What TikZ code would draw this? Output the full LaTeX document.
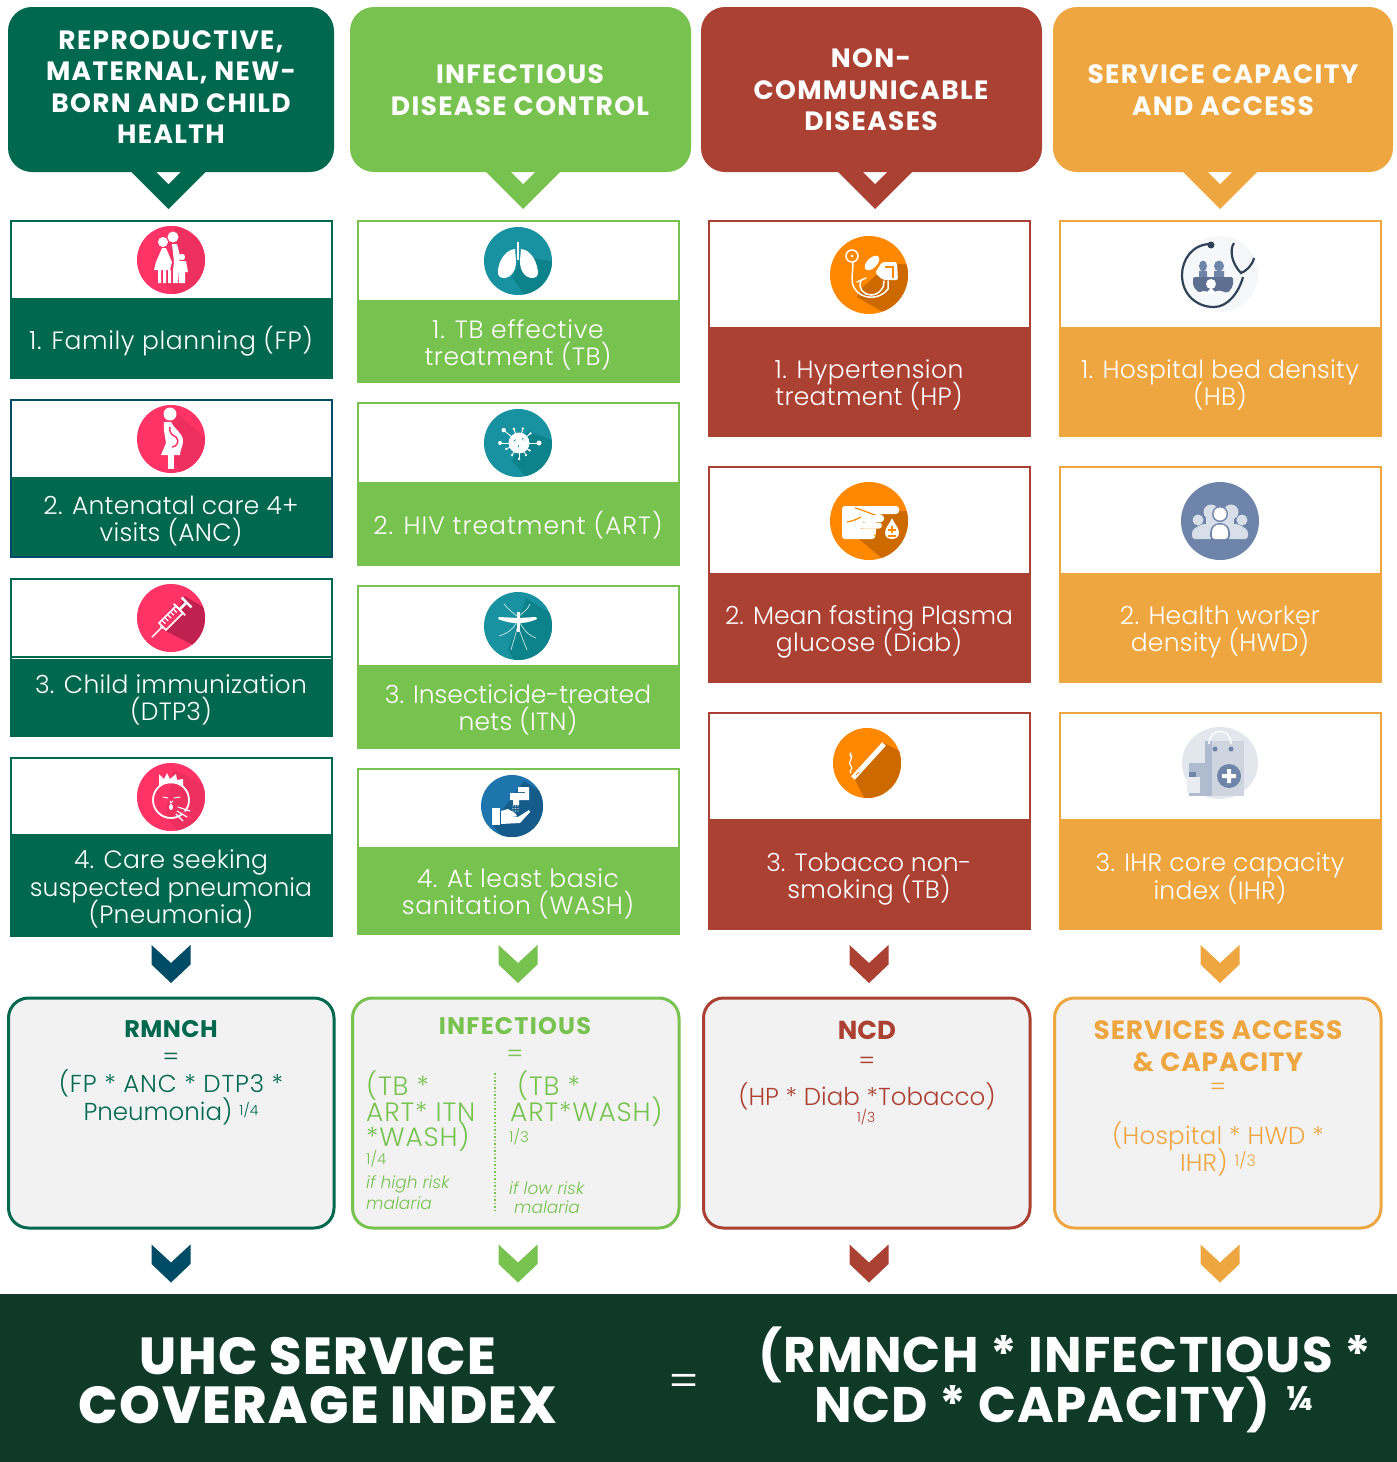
\documentclass[tikz,border=0pt]{standalone}
\usepackage{fontspec}
\setmainfont{Poppins}[UprightFont=* Light,BoldFont=* SemiBold,ItalicFont=* Light Italic]
\newfontfamily\heavyf{Poppins ExtraBold}
\newfontfamily\boldf{Poppins Bold}
\newcommand\ls[1]{\addfontfeature{LetterSpace=#1}}
\definecolor{cgreen}{HTML}{00684F}
\definecolor{clime}{HTML}{78C250}
\definecolor{cred}{HTML}{AB4132}
\definecolor{corange}{HTML}{EEA640}
\definecolor{cnavy}{HTML}{004C66}
\definecolor{cband}{HTML}{103A28}
\definecolor{cbox}{HTML}{F2F2F2}
\definecolor{cpink}{HTML}{FF3366}
\definecolor{cpinkd}{HTML}{EE3060}
\definecolor{cpinkx}{HTML}{C0224F}
\definecolor{cteal}{HTML}{1892A0}
\definecolor{ctealt}{HTML}{0C828A}
\definecolor{cblue}{HTML}{1E75AD}
\definecolor{cblued}{HTML}{165C8A}
\definecolor{cor}{HTML}{FF8800}
\definecolor{cord}{HTML}{CC6A00}
\definecolor{cslate}{HTML}{6E84A8}
\definecolor{cpale}{HTML}{D8DFE9}
\definecolor{cink}{HTML}{2F4257}
\tikzset{
  cardtxt/.style={text=white,align=center,inner sep=0pt,font=\fontsize{25}{27.5}\selectfont\ls{1}},
  headtxt/.style={text=white,align=center,inner sep=0pt,font=\fontsize{26.5}{31.6}\selectfont\boldf\ls{5}},
  formtxt/.style={align=center,inner sep=0pt,font=\fontsize{24.5}{27.5}\selectfont\ls{1}},
  formhead/.style={align=center,inner sep=0pt,font=\fontsize{24}{31}\selectfont\boldf\ls{2}},
  smalltxt/.style={anchor=west,inner sep=0pt,font=\fontsize{15}{17}\selectfont},
  risktxt/.style={anchor=west,inner sep=0pt,font=\fontsize{17}{19}\selectfont\itshape},
  lefttxt/.style={anchor=west,inner sep=0pt,font=\fontsize{26.5}{26}\selectfont\ls{3}},
  bandtxt/.style={text=white,align=center,inner sep=0pt},
  glyph/.style={fill=white,draw=none},
  wline/.style={draw=white,line width=1.5pt,line cap=round,fill=none}
}
\newcommand\headerbox[8]{%
  \fill[#5] (#4-37,172) -- (#4,209) -- (#4+37,172) -- cycle;
  \fill[white] (#4-12,172) -- (#4,184) -- (#4+12,172) -- cycle;
  \fill[#5,rounded corners=24pt] (#2,7) rectangle (#3,172);
  \node[headtxt] (#1) at (#6,#7) {#8};
}
\newcommand\card[9]{%
  \fill[white,draw=#6,line width=2pt] (#2+1,#3+1) rectangle (#2+322,#4+1);
  \fill[#6] (#2,#4+1) rectangle (#2+323,#5);
  \node[cardtxt] (#1) at (#7,#8) {#9};
}
\newcommand\chev[3]{%
  \fill[#3] (#1-19.5,#2) -- (#1,#2+18) -- (#1+19.5,#2) -- (#1+19.5,#2+19.5) -- (#1,#2+38) -- (#1-19.5,#2+19.5) -- cycle;
}
\newcommand\formbox[3]{%
  \draw[#3,line width=3pt,fill=cbox,rounded corners=20pt] (#1,998) rectangle (#2,1228);
}
\newcommand\disc[4]{%
  \fill[#2] (0,0) circle[radius=#1];
  \begin{scope}
    \clip (0,0) circle[radius=#1];
    \fill[#3] #4;
  \end{scope}
}
\begin{document}
\begin{tikzpicture}[x=1pt,y=-1pt]
\lineskiplimit=-100pt
\normallineskiplimit=-100pt
\useasboundingbox (0,0) rectangle (1397,1462);
\fill[white] (0,0) rectangle (1397,1462);

% ---------- headers
\headerbox{h1}{8}{334}{168.5}{cgreen}{171}{87}{REPRODUCTIVE,\\MATERNAL, NEW-\\BORN AND CHILD\\HEALTH}
\headerbox{h2}{350}{691}{523}{clime}{520}{90}{INFECTIOUS\\DISEASE CONTROL}
\headerbox{h3}{701}{1042}{875}{cred}{871}{90}{NON-\\COMMUNICABLE\\DISEASES}
\headerbox{h4}{1053}{1393}{1220}{corange}{1223}{90}{SERVICE CAPACITY\\AND ACCESS}

% ---------- cards column 1
\card{c11}{10}{220}{298}{379}{cgreen}{171}{341}{{\ls{2.5}1. Family planning (FP)}}
\card{c12}{10}{399}{477}{558}{cgreen}{171}{521}{2. Antenatal care 4+\\visits (ANC)}
\draw[cnavy,line width=2pt] (11,400) rectangle (332,557);
\card{c13}{10}{578}{656}{737}{cgreen}{171}{700}{3. Child immunization\\(DTP3)}
\draw[white,line width=1pt] (12,658.5) -- (331,658.5);
\card{c14}{10}{757}{834}{937}{cgreen}{171}{889}{4. Care seeking\\{\ls{0.2}suspected pneumonia}\\(Pneumonia)}
% ---------- cards column 2
\card{c21}{357}{220}{300}{383}{clime}{518}{345}{{\ls{3}1. TB effective}\\{\ls{2}treatment (TB)}}
\card{c22}{357}{402}{482}{566}{clime}{518}{525}{{\ls{4}2. HIV treatment (ART)}}
\card{c23}{357}{585}{665}{749}{clime}{518}{710}{{\ls{0}3. Insecticide-treated}\\nets (ITN)}
\card{c24}{357}{768}{847}{935}{clime}{518}{894}{{\ls{2}4. At least basic}\\{\ls{2.5}sanitation (WASH)}}
% ---------- cards column 3
\card{c31}{708}{220}{327}{437}{cred}{869}{385}{{\ls{1.5}1. Hypertension}\\treatment (HP)}
\card{c32}{708}{466}{573}{683}{cred}{869}{632}{{\ls{0}2. Mean fasting Plasma}\\glucose (Diab)}
\card{c33}{708}{712}{819}{930}{cred}{869}{879}{{\ls{0}3. Tobacco non-}\\smoking (TB)}
% ---------- cards column 4
\card{c41}{1059}{220}{327}{437}{corange}{1220}{385}{1. Hospital bed density\\(HB)}
\card{c42}{1059}{466}{573}{683}{corange}{1220}{632}{2. Health worker\\density (HWD)}
\card{c43}{1059}{712}{819}{930}{corange}{1220}{878.5}{3. IHR core capacity\\index (IHR)}

% ---------- chevrons
\chev{171}{945}{cnavy}\chev{518}{945}{clime}\chev{869}{945}{cred}\chev{1220}{945}{corange}
\chev{171}{1244.5}{cnavy}\chev{518}{1244.5}{clime}\chev{869}{1244.5}{cred}\chev{1220}{1244.5}{corange}

% ---------- formula boxes
\formbox{8.5}{334}{cgreen}
\formbox{352.5}{679}{clime}
\formbox{703.5}{1030}{cred}
\formbox{1054.5}{1381}{corange}

\node[formhead,text=cgreen] (f1h) at (171,1029) {RMNCH};
\node[formtxt,text=cgreen] (f1e) at (171,1059) {=};
\node[formtxt,text=cgreen] (f1a) at (171,1097.5) {{\ls{3.5}(FP * ANC * DTP3 *}\\{\ls{0}Pneumonia)} \raisebox{5pt}{\fontsize{14}{14}\selectfont 1/4}};

\node[formhead,text=clime] (f2h) at (515,1026) {{\ls{5}INFECTIOUS}};
\node[formtxt,text=clime] (f2e) at (515,1056) {=};
\node[lefttxt,text=clime] (f2l1) at (366,1086) {(TB *};
\node[lefttxt,text=clime] (f2l2) at (366,1112) {ART* ITN};
\node[lefttxt,text=clime] (f2l3) at (366,1137) {*WASH)};
\node[smalltxt,text=clime] (f2l4) at (366,1158.5) {1/4};
\node[risktxt,text=clime] (f2l5) at (366,1184) {if high risk};
\node[risktxt,text=clime] (f2l6) at (366,1203) {malaria};
\draw[clime,line width=1.5pt,dotted] (495,1073) -- (495,1213);
\node[lefttxt,text=clime] (f2r1) at (517,1086) {(TB *};
\node[lefttxt,text=clime] (f2r2) at (510,1112) {ART*WASH)};
\node[smalltxt,text=clime] (f2r3) at (509,1137) {1/3};
\node[risktxt,text=clime] (f2r4) at (509,1188) {if low risk};
\node[risktxt,text=clime] (f2r5) at (514,1207) {malaria};

\node[formhead,text=cred,font=\fontsize{26}{31}\selectfont\boldf] (f3h) at (867,1030) {NCD};
\node[formtxt,text=cred] (f3e) at (867,1063) {=};
\node[formtxt,text=cred] (f3a) at (867,1096) {{\ls{0}(HP * Diab *Tobacco)}};
\node[inner sep=0pt,text=cred,font=\fontsize{14}{14}\selectfont] (f3b) at (866,1117) {1/3};

\node[formhead,text=corange,font=\fontsize{26.5}{32}\selectfont\boldf\ls{3}] (f4h) at (1218,1046) {SERVICES ACCESS\\\& CAPACITY};
\node[formtxt,text=corange] (f4e) at (1218,1089) {=};
\node[formtxt,text=corange] (f4a) at (1218,1149) {(Hospital * HWD *\\IHR) \raisebox{5pt}{\fontsize{16}{16}\selectfont 1/3}};

% ---------- bottom band
\fill[cband] (0,1294) rectangle (1397,1462);
\node[bandtxt,font=\fontsize{52}{49}\selectfont\heavyf\ls{3}] (u1) at (318,1381) {UHC SERVICE\\COVERAGE INDEX};
\node[bandtxt,font=\fontsize{46}{46}\selectfont] (u2) at (684,1386) {=};
\node[bandtxt,font=\fontsize{50}{50}\selectfont\boldf\ls{2.2}] (u3) at (1065,1355) {(RMNCH * INFECTIOUS *};
\node[bandtxt,font=\fontsize{50}{50}\selectfont\boldf\ls{2.2}] (u4) at (1042,1405) {NCD * CAPACITY)};
\node[bandtxt,font=\fontsize{34}{34}\selectfont\boldf] (u5) at (1300,1399) {¼};

% ---------- icons: family planning
\begin{scope}[shift={(171,260)}]
\disc{34}{cpink}{cpinkd}{(4,-36) -- (42,-12) -- (42,42) -- (12,42) -- (-6,24) -- cycle}
\fill[white] (2,-23) circle[radius=5.5] (-8,-18) circle[radius=5] (11,-3) circle[radius=3.2];
\fill[glyph] (-9,-12) -- (-5,-12) -- (1,2) -- (-1,10) -- (-17,10) -- (-15,2) -- cycle;
\fill[glyph] (-13,10) rectangle (-10,23) (-8,10) rectangle (-5,23) (-3,10) rectangle (0,23);
\fill[glyph] (1,-16) -- (6,-16) -- (9,-4) -- (7,23) -- (2,23) -- (2,10) -- (3,2) -- cycle;
\fill[glyph] (7,1) -- (15,1) -- (17,12) -- (14,12) -- (14,23) -- (8,23) -- (8,12) -- (5,12) -- cycle;
\end{scope}
% antenatal
\begin{scope}[shift={(171,439)}]
\disc{34}{cpink}{cpinkd}{(2,-30) -- (42,6) -- (42,42) -- (14,42) -- (4,22) -- cycle}
\fill[white] (-1,-25) circle[radius=6.5];
\fill[glyph] (-7,-17) -- (0,-17) .. controls (4,-9) and (12,-6) .. (12,2) .. controls (12,8) and (9,10) .. (9,16) -- (-10,16) -- (-5,4) .. controls (-6,-4) and (-8,-10) .. (-7,-17) -- cycle;
\draw[cpink,line width=1.5pt] (-1,-12) .. controls (-2,-6) and (1,-4) .. (5,-2) .. controls (9,2) and (6,8) .. (1,8);
\fill[glyph] (-3,16) rectangle (3,30);
\end{scope}
% immunization
\begin{scope}[shift={(171,618)}]
\disc{34}{cpink}{cpinkx}{(-5,13) -- (22,27) -- (42,14) -- (42,-5) -- (14,-22) -- cycle}
\begin{scope}[rotate=45]
\draw[white,line width=1.4pt] (-27,0) -- (-14,0);
\fill[white] (-14,-1.5) rectangle (-12,1.5);
\draw[white,line width=1.6pt,fill=cpink] (-12,-5) rectangle (12,5);
\foreach \q in {-8,-4,0,4,8}{\draw[white,line width=1.2pt] (\q,-5) -- (\q,0);}
\draw[white,line width=1.8pt] (12,-8) -- (12,8);
\draw[white,line width=2.5pt] (12,0) -- (22,0);
\draw[white,line width=2.5pt] (22,-7) -- (22,7);
\end{scope}
\end{scope}
% pneumonia
\begin{scope}[shift={(171,797)}]
\disc{34}{cpink}{cpinkd}{(2,-28) -- (42,-8) -- (42,42) -- (12,42) -- (-6,18) -- cycle}
\draw[white,line width=1.8pt] (0,3) circle[radius=18];
\fill[glyph] (-12,-10) -- (-12,-23) -- (-7,-18) -- (-4,-24) -- (-1,-18) -- (5,-23) -- (6,-17) -- (12,-18) -- (12,-10) .. controls (5,-15) and (-5,-15) .. (-12,-10) -- cycle;
\draw[wline,line width=1pt] (-8,0) -- (-3,1) (3,1) -- (9,0);
\draw[wline,line width=1pt] (-1,4) -- (0,6) -- (2,4);
\fill[white] (0,10) ellipse[x radius=2,y radius=3];
\draw[cpink,line width=3pt] (12,15) -- (20,22);
\draw[wline,line width=1.1pt] (7,10) -- (19,14) (6,14) -- (16,20) (5,17) -- (12,24);
\end{scope}
% lungs
\begin{scope}[shift={(518,261)}]
\disc{34}{cteal}{ctealt}{(-6,16) -- (4,-4) -- (34,0) -- (34,34) -- (6,34) -- cycle}
\fill[glyph] (-1.2,-19) rectangle (1.2,-1);
\fill[glyph] (-3,-12) .. controls (-14,-11) and (-21,3) .. (-20,13) .. controls (-19,18) and (-12,18) .. (-8,15) .. controls (-4,11) and (-2,8) .. (-2,-1) -- cycle;
\fill[glyph] (3,-12) .. controls (14,-11) and (20,3) .. (20,13) .. controls (19,18) and (12,18) .. (8,15) .. controls (4,11) and (2,8) .. (2,-1) -- cycle;
\end{scope}
% HIV
\begin{scope}[shift={(518,443)}]
\disc{34}{cteal}{ctealt}{(10,-12) -- (36,-2) -- (36,34) -- (8,34) -- (-6,18) -- cycle}
\fill[white] (1,0) circle[radius=10.5];
\fill[cteal] (-3,-3) circle[radius=1.5] (5,-4) circle[radius=1.5] (1,3) circle[radius=1.5];
\foreach \a/\l/\b in {0/20/2.5,-40/15/1.3,-75/15/1.3,-110/15/1.3,-140/20/2.2,180/19/2,155/14/1.3,120/14/1.3,90/16/1.3,60/14/1.3,35/13/1.3}{
  \draw[white,line width=0.9pt] (1,0) -- ++(\a:\l);
  \fill[white] (1,0) ++(\a:\l) circle[radius=\b];
}
\end{scope}
% mosquito
\begin{scope}[shift={(518,626)}]
\disc{34}{cteal}{ctealt}{(8,-28) -- (40,-8) -- (40,40) -- (0,40) -- (-10,24) -- cycle}
\fill[white] (0,-8) -- (18,-9) -- (19,-7) .. controls (10,-3) and (4,-3) .. (0,-3) .. controls (-4,-3) and (-10,-3) .. (-20,-7) -- (-19,-9) -- cycle;
\fill[white] (-1.5,-14) rectangle (1.5,6);
\draw[white,line width=0.8pt,opacity=.7] (-1,-10) .. controls (-6,-14) and (-10,-17) .. (-14,-22) (1,-10) .. controls (6,-14) and (10,-17) .. (12,-22);
\draw[white,line width=0.8pt,opacity=.7] (-2,-3) .. controls (-5,4) and (-12,8) .. (-19,10) (2,-3) .. controls (6,3) and (8,8) .. (18,12);
\draw[white,line width=0.8pt,opacity=.7] (-1,2) .. controls (-3,12) and (-5,16) .. (-7,24) (1,2) .. controls (3,10) and (6,16) .. (9,24);
\end{scope}
% WASH
\begin{scope}[shift={(512,806)}]
\disc{31}{cblue}{cblued}{(12,-25) -- (38,-8) -- (38,38) -- (-4,38) -- (-20,18) -- cycle}
\fill[glyph] (6,-19) rectangle (17,-14) (13,-19) rectangle (17,-7) (-2,-13) rectangle (17,-6) (1,-6) rectangle (7,-1);
\foreach \q in {1,3.5,6}{\foreach \w in {0,2.5,5}{\fill[white] (\q,\w) circle[radius=.7];}}
\fill[glyph] (-20,2) rectangle (-12,19);
\fill[glyph] (-11,5) -- (-4,3) -- (3,7) -- (5,10) -- (-3,10) -- (6,11) -- (17,4) -- (18,6) -- (8,17) -- (-11,18) -- cycle;
\end{scope}
% hypertension
\begin{scope}[shift={(869,275)}]
\disc{39}{cor}{cord}{(20,-12) -- (42,-10) -- (42,42) -- (12,36) -- (-12,22) -- (-6,12) -- cycle}
\draw[white,line width=1.5pt] (-17,-19) circle[radius=6];
\fill[white] (-17,-19) circle[radius=1.5];
\draw[wline] (-16,-13) .. controls (-16,-2) and (-19,8) .. (-14,14) .. controls (-8,24) and (10,26) .. (19,14) -- (19,6);
\draw[wline] (-8,6) .. controls (-12,14) and (-4,20) .. (2,20) .. controls (10,20) and (16,12) .. (15,6);
\draw[wline] (-12,7) -- (-3,3);
\fill[white,rotate around={45:(3,-12)}] (3,-12) ellipse[x radius=9,y radius=5];
\fill[white,rounded corners=2pt] (6,-2) -- (13,-13) -- (28,-13) -- (29,5) -- (14,5) -- cycle;
\draw[cor,line width=1.3pt] (16,-8) -- (24,-8) -- (24,3);
\end{scope}
% diabetes
\begin{scope}[shift={(869,521)}]
\disc{39}{cor}{cord}{(-10,18) -- (2,-10) -- (40,-10) -- (40,38) -- (16,40) -- cycle}
\fill[white,rounded corners=3pt] (-27,-15) -- (30,-15) -- (30,-7) -- (10,-7) -- (6,18) -- (-27,18) -- cycle;
\draw[cor,line width=1.2pt] (-14,-13) .. controls (-6,-11) and (0,-8) .. (6,-6) -- (14,-4);
\draw[cor,line width=1.2pt] (-22,1) .. controls (-16,0) and (-12,-2) .. (-8,-4) (-6,-1) -- (15,-1) (-8,7) -- (11,7) (-7,14) -- (8,14);
\fill[cor] (-6,-1) -- (-3,3) -- (-6,6) -- cycle;
\fill[cord] (7,-5) rectangle (20,20);
\fill[white,rounded corners=3pt] (-8,-6) rectangle (15,1);
\fill[white,rounded corners=3pt] (-9,1.5) rectangle (13,7.5);
\fill[white,rounded corners=3pt] (-9,10) rectangle (5,17);
\fill[white] (23,-3) .. controls (25,3) and (30,6) .. (30,12) .. controls (30,20) and (16,20) .. (16,12) .. controls (16,6) and (21,3) .. (23,-3) -- cycle;
\draw[cor,line width=1.2pt] (19,9) -- (27,9) (23,5) -- (23,12) (19,15) -- (27,15);
\end{scope}
% tobacco
\begin{scope}[shift={(867,763)}]
\fill[cor] (0,0) ellipse[x radius=34,y radius=35];
\begin{scope}
\clip (0,0) ellipse[x radius=34,y radius=35];
\fill[cord] (-12,17) -- (17,-20) -- (40,-8) -- (40,40) -- (-1,38) -- cycle;
\end{scope}
\draw[white,line width=5pt] (-14,15) -- (17,-19);
\draw[cor,line width=1pt] (-11,12) -- (-8,9);
\draw[white,line width=1.2pt] (-15,-7) .. controls (-19,-9) and (-15,-12) .. (-17,-8) .. controls (-12,-5) and (-21,0) .. (-16,3) .. controls (-13,6) and (-19,8) .. (-16,10);
\end{scope}
% hospital beds
\begin{scope}[shift={(1220,274)}]
\fill[cpale!25!white] (0,0) circle[radius=38];
\draw[cink,line width=2.2pt] (-9,-30) .. controls (-28,-30) and (-38,-14) .. (-38,1) .. controls (-38,20) and (-24,33) .. (-6,33) .. controls (8,33) and (19,18) .. (23,3);
\fill[cink] (-9,-29) circle[radius=3.5];
\draw[cink,line width=2.2pt] (14,-31) .. controls (9,-24) and (12,-10) .. (21,-1) .. controls (26,-3) and (32,-8) .. (34,-16);
\fill[cslate] (-17,-8) ellipse[x radius=4,y radius=5.5] (-1,-8) ellipse[x radius=5,y radius=5.5];
\fill[cslate] (-21,-3) rectangle (-13,5) (-6,-3) rectangle (4,5);
\fill[cslate!85!black,rounded corners=2pt] (-27,3) -- (13,3) -- (13,12) -- (8,19) -- (-2,16) -- (-9,20) -- (-16,16) -- (-21,19) -- (-27,12) -- cycle;
\fill[white] (-9,10) circle[radius=5];
\fill[white] (-15,20) -- (-9,14) -- (-3,20) -- cycle;
\end{scope}
% health workers
\begin{scope}[shift={(1220,521)}]
\fill[cslate] (0,0) circle[radius=39];
\fill[cpale] (-22,-1) circle[radius=5.5] (22,-1) circle[radius=5.5] (-9,-9) circle[radius=7.5] (11,-9) circle[radius=7.5];
\fill[cpale,rounded corners=3pt] (-28,18) -- (-28,9) -- (-18,3) -- (-10,3) -- (-10,18) -- cycle;
\fill[cpale,rounded corners=3pt] (28,18) -- (28,9) -- (18,3) -- (10,3) -- (10,18) -- cycle;
\fill[cpale] (-14,-4) rectangle (14,18);
\fill[cslate] (0,-7) circle[radius=8];
\fill[white] (0,-7) circle[radius=6.5];
\fill[cslate,rounded corners=4pt] (-10,19) -- (-10,8) -- (-5,2) -- (5,2) -- (10,8) -- (10,19) -- cycle;
\fill[white,rounded corners=3pt] (-8,18) -- (-8,8) -- (-4,3.5) -- (4,3.5) -- (8,8) -- (8,18) -- cycle;
\end{scope}
% IHR
\begin{scope}[shift={(1220,763)}]
\fill[cpale!75!white] (0,0) ellipse[x radius=38,y radius=36];
\fill[cpale!90!gray] (-15,-22) rectangle (24,33);
\fill[cslate!55!white] (-15,-22) rectangle (-8,33);
\draw[white,line width=1.4pt] (-11,-19) .. controls (-11,-36) and (11,-36) .. (11,-19);
\fill[cslate] (-5,-14) circle[radius=2.5] (11,-14) circle[radius=2.5];
\fill[cslate] (9,13) circle[radius=12];
\fill[white] (7,6) rectangle (11,20) (2,11) rectangle (16,15);
\fill[cslate!55!white] (-31,0) rectangle (-8,33);
\fill[white!85!cslate] (-33,14) rectangle (-20,30);
\fill[cslate] (-31,9) rectangle (-24,14);
\end{scope}
\end{tikzpicture}
\end{document}
